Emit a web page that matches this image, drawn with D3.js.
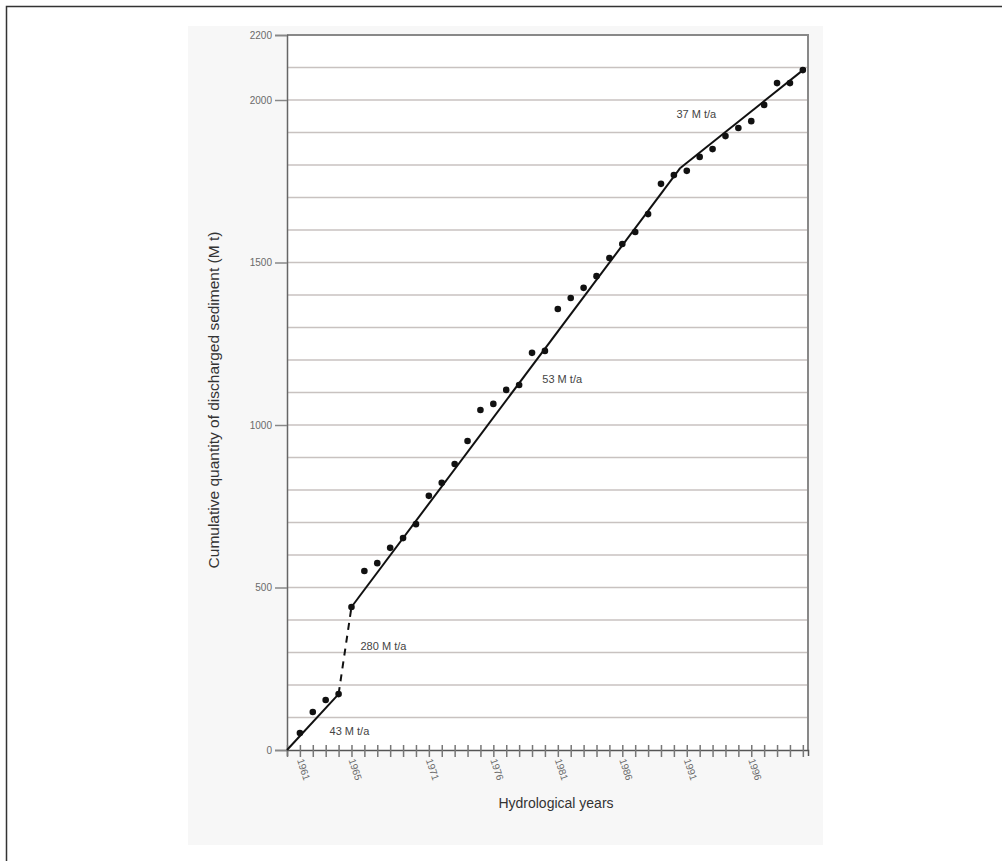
<!DOCTYPE html>
<html>
<head>
<meta charset="utf-8">
<script src="https://cdn.jsdelivr.net/npm/d3@7"></script>
<style>
  body { margin: 0; background: #fff; }
  svg { font-family: "Liberation Sans", Arial, sans-serif; }
</style>
</head>
<body>
<div id="vis"></div>
<script>
var width = 1002,
    height = 861;

// hydrological years and cumulative discharged sediment (Mt)
var years = [1961, 1962, 1963, 1964, 1965, 1966, 1967, 1968, 1969, 1970,
             1971, 1972, 1973, 1974, 1975, 1976, 1977, 1978, 1979, 1980,
             1981, 1982, 1983, 1984, 1985, 1986, 1987, 1988, 1989, 1990,
             1991, 1992, 1993, 1994, 1995, 1996, 1997, 1998, 1999, 2000];
var cumulative = [52, 117, 154, 172, 440, 551, 575, 622, 652, 695,
                  782, 822, 880, 951, 1046, 1065, 1108, 1123, 1222, 1228,
                  1357, 1391, 1422, 1458, 1514, 1557, 1594, 1649, 1742, 1769,
                  1782, 1825, 1849, 1889, 1914, 1935, 1985, 2052, 2052, 2092];

// fitted trend (break points)
var trendYears = [1960, 1964, 1965, 1990.5, 2000.2];
var trendValues = [0, 172, 440, 1791, 2098];

var yTicks = [0, 500, 1000, 1500, 2000, 2200];
var labelYears = [1961, 1965, 1971, 1976, 1981, 1986, 1991, 1996];

var rateLabels = ["43 M t/a", "280 M t/a", "53 M t/a", "37 M t/a"];
var rateYears = [1963.3, 1965.7, 1979.8, 1990.2];
var rateValues = [46, 308, 1129, 1945];

var svg = d3.select("#vis").append("svg")
    .attr("width", width)
    .attr("height", height);

// outer frame (top + left visible)
svg.append("path")
    .attr("d", "M6.5,861 L6.5,6.5 L1002,6.5")
    .attr("fill", "none")
    .attr("stroke", "#333")
    .attr("stroke-width", 1.5);

// the embedded picture background
svg.append("rect")
    .attr("x", 188).attr("y", 26)
    .attr("width", 635).attr("height", 819)
    .attr("fill", "#f7f7f7");

var plotLeft = 287, plotRight = 808, plotTop = 35, plotBottom = 750;

svg.append("rect")
    .attr("x", plotLeft).attr("y", plotTop)
    .attr("width", plotRight - plotLeft).attr("height", plotBottom - plotTop)
    .attr("fill", "#fff");

var x = d3.scaleLinear().domain([1960, 2000.4]).range([plotLeft, plotRight]);
var y = d3.scaleLinear().domain([0, 2200]).range([plotBottom, plotTop]);

// horizontal grid every 100 Mt
svg.append("g").selectAll("line")
    .data(d3.range(100, 2200, 100))
    .enter().append("line")
    .attr("x1", plotLeft).attr("x2", plotRight)
    .attr("y1", function(d) { return y(d); })
    .attr("y2", function(d) { return y(d); })
    .attr("stroke", "#c8c2c0")
    .attr("stroke-width", 1.5);

// frame of plot: top + right
svg.append("path")
    .attr("d", "M" + plotLeft + "," + y(2200) + " L" + plotRight + "," + y(2200) + " L" + plotRight + "," + plotBottom)
    .attr("fill", "none")
    .attr("stroke", "#888")
    .attr("stroke-width", 2);

// y axis
var yAxis = d3.axisLeft(y).tickValues(yTicks).tickSize(12).tickPadding(3).tickFormat(d3.format("d"));
var gy = svg.append("g")
    .attr("transform", "translate(" + plotLeft + ",0)")
    .call(yAxis);
gy.select(".domain").attr("stroke", "#666").attr("stroke-width", 1.5);
gy.selectAll(".tick line").attr("stroke", "#888").attr("stroke-width", 1.5);
gy.selectAll(".tick text")
    .attr("fill", "#6a6a6a")
    .style("font-size", "10px");

// x axis: one tick per year, crossing the axis line
var xAxis = d3.axisBottom(x)
    .tickValues(d3.range(1960, 2001))
    .tickSize(6)
    .tickFormat("");
var gx = svg.append("g")
    .attr("transform", "translate(0," + plotBottom + ")")
    .call(xAxis);
gx.select(".domain").attr("stroke", "#555").attr("stroke-width", 1.5);
gx.selectAll(".tick line")
    .attr("y1", -5)
    .attr("y2", 7)
    .attr("stroke", "#777")
    .attr("stroke-width", 1.5);

svg.append("g").selectAll("text")
    .data(labelYears)
    .enter().append("text")
    .attr("transform", function(d) { return "translate(" + (x(d) - 3) + "," + (plotBottom + 10) + ") rotate(72)"; })
    .attr("fill", "#6a6a6a")
    .style("font-size", "10px")
    .text(function(d) { return d; });

// trend line
var segs = [];
for (var i = 0; i < trendYears.length - 1; i++) {
    segs.push({x0: trendYears[i], y0: trendValues[i], x1: trendYears[i + 1], y1: trendValues[i + 1], dashed: i === 1});
}
svg.append("g").selectAll("line")
    .data(segs)
    .enter().append("line")
    .attr("x1", function(d) { return x(d.x0); })
    .attr("y1", function(d) { return y(d.y0); })
    .attr("x2", function(d) { return x(d.x1); })
    .attr("y2", function(d) { return y(d.y1); })
    .attr("stroke", "#111")
    .attr("stroke-width", 2)
    .attr("stroke-dasharray", function(d) { return d.dashed ? "7,6" : null; });

// data points
svg.append("g").selectAll("circle")
    .data(years)
    .enter().append("circle")
    .attr("cx", function(d) { return x(d); })
    .attr("cy", function(d, i) { return y(cumulative[i]); })
    .attr("r", 3.3)
    .attr("fill", "#111");

// rate annotations
svg.append("g").selectAll("text")
    .data(rateLabels)
    .enter().append("text")
    .attr("x", function(d, i) { return x(rateYears[i]); })
    .attr("y", function(d, i) { return y(rateValues[i]); })
    .attr("fill", "#444")
    .style("font-size", "11px")
    .text(function(d) { return d; });

// axis titles
svg.append("text")
    .attr("transform", "translate(219,400) rotate(-90)")
    .attr("text-anchor", "middle")
    .attr("fill", "#333")
    .style("font-size", "15.5px")
    .text("Cumulative quantity of discharged sediment (M t)");

svg.append("text")
    .attr("x", 556)
    .attr("y", 808)
    .attr("text-anchor", "middle")
    .attr("fill", "#333")
    .style("font-size", "14px")
    .text("Hydrological years");
</script>
</body>
</html>
